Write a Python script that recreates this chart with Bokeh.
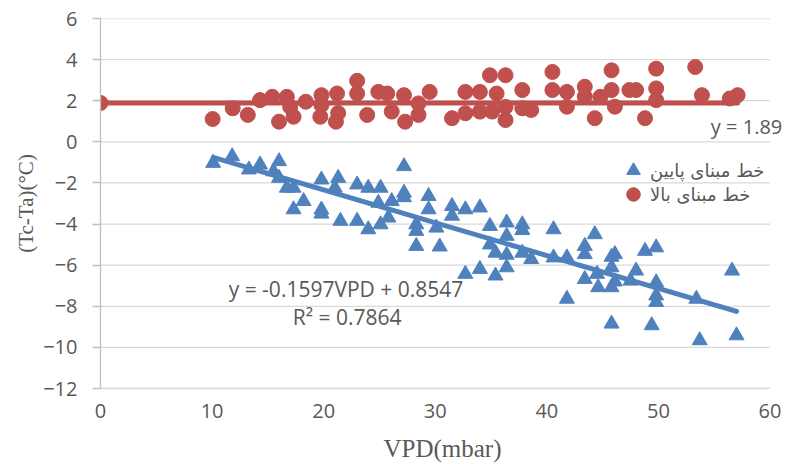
import numpy as np
from bokeh.plotting import figure
from bokeh.models import FixedTicker, Label, Legend, LegendItem
from bokeh.embed import file_html
from bokeh.resources import INLINE

# ---- data ----
vpd_low = [10.1, 11.8, 13.3, 14.3, 15.5, 16.0, 16.0, 16.7, 17.3, 17.3, 18.2, 19.8, 19.8, 19.8,
           21.0, 21.3, 21.5, 23.0, 23.0, 24.0, 24.0, 24.9, 25.1, 25.1, 25.8, 26.1, 27.2, 27.2,
           27.2, 28.3, 28.3, 28.3, 29.4, 29.4, 30.1, 30.4, 31.5, 31.5, 32.7, 32.7, 34.0, 34.0,
           34.9, 34.9, 35.4, 35.4, 36.4, 36.4, 36.4, 36.4, 37.8, 37.8, 37.8, 38.6, 40.6, 40.6,
           41.8, 41.8, 43.4, 43.4, 43.4, 44.3, 44.5, 44.6, 45.8, 45.8, 45.8, 45.8, 46.1, 46.1,
           47.5, 48.0, 48.8, 49.4, 49.8, 49.8, 49.8, 49.8, 53.4, 53.7, 56.6, 57.0]
dt_low = [-1.03, -0.71, -1.35, -1.11, -1.44, -0.95, -1.76, -2.24, -2.24, -3.29, -2.89, -1.84, -3.30, -3.50,
          -2.24, -1.76, -3.85, -2.08, -3.85, -2.24, -4.26, -2.97, -2.24, -4.02, -3.69, -2.89, -1.19, -2.48,
          -2.70, -4.02, -4.34, -5.07, -2.64, -3.29, -4.18, -5.10, -3.13, -3.60, -3.29, -6.43, -3.20, -6.19,
          -4.10, -5.00, -5.40, -6.51, -3.93, -4.58, -5.50, -6.11, -4.02, -4.30, -5.40, -5.71, -4.26, -5.63,
          -5.63, -7.64, -5.07, -5.47, -6.68, -4.50, -6.43, -7.08, -5.60, -6.11, -7.08, -8.85, -5.47, -6.80,
          -6.76, -6.27, -5.31, -8.93, -5.14, -6.84, -7.48, -7.80, -7.64, -9.66, -6.27, -9.42]

vpd_high = [0.0, 10.05, 11.85, 13.2, 14.3, 15.4, 16.0, 16.7, 17.0, 17.3, 18.4, 19.7, 19.8, 19.8,
            21.1, 21.2, 21.3, 23.0, 23.0, 23.9, 24.9, 25.7, 26.1, 27.2, 27.3, 28.5, 28.5, 29.5,
            31.5, 32.7, 32.7, 34.0, 34.0, 34.9, 35.1, 35.5, 36.3, 36.3, 36.3, 37.8, 37.8, 38.6,
            40.5, 40.5, 41.8, 41.8, 43.4, 43.4, 44.3, 44.8, 45.8, 45.8, 46.1, 47.4, 48.0, 48.8,
            49.8, 49.8, 49.8, 53.3, 53.9, 56.4, 57.1]
dt_high = [1.89, 1.11, 1.63, 1.31, 2.03, 2.19, 0.98, 2.19, 1.70, 1.22, 1.95, 1.22, 1.79, 2.27,
           0.98, 2.35, 1.40, 2.97, 2.35, 1.31, 2.43, 2.35, 1.47, 2.27, 0.98, 1.87, 1.31, 2.43,
           1.15, 2.43, 1.39, 2.43, 1.47, 3.24, 1.47, 2.35, 3.24, 1.06, 1.70, 2.52, 1.63, 1.55,
           3.40, 2.52, 2.43, 1.71, 2.68, 2.20, 1.15, 2.19, 3.48, 2.52, 1.71, 2.52, 2.52, 1.15,
           3.56, 2.60, 2.03, 3.64, 2.27, 2.11, 2.27]

low_slope = -0.1597
low_intercept = 0.8547
high_level = 1.89

x_ticks = [0, 10, 20, 30, 40, 50, 60]
y_ticks = [-12, -10, -8, -6, -4, -2, 0, 2, 4, 6]

eq_low = "y = -0.1597VPD + 0.8547"
r2_low = "R² = 0.7864"
eq_high = "y = 1.89"
legend_low = "خط مبنای پایین"
legend_high = "خط مبنای بالا"
x_title = "VPD(mbar)"
y_title = "(Tc-Ta)(°C)"

BLUE = "#4F81BD"
RED = "#C0504D"
TXT = "#595959"
GRID = "#d9d9d9"
TICK_FONT = "Open Sans"

x_lo, x_hi = x_ticks[0], x_ticks[-1]

# frame extends a little past x=60 so the "y = 1.89" label has room; the
# gridlines and the x-axis line stop at 60 as in the reference.
p = figure(width=787, height=464, x_range=(x_lo, 61.3), y_range=(y_ticks[0], y_ticks[-1]),
           output_backend="svg", toolbar_location=None,
           min_border_left=100, min_border_right=3, min_border_top=18, min_border_bottom=74)
p.outline_line_color = None
p.background_fill_color = "white"
p.border_fill_color = "white"

# grid (drawn as segments limited to 0..60)
p.xgrid.grid_line_color = None
p.ygrid.grid_line_color = None
p.segment(x0=[x_lo] * len(y_ticks), x1=[x_hi] * len(y_ticks), y0=y_ticks, y1=y_ticks,
          line_color=GRID, line_width=1.3)

# axes
p.xaxis.ticker = FixedTicker(ticks=x_ticks)
p.yaxis.ticker = FixedTicker(ticks=y_ticks)
for ax in (p.xaxis[0], p.yaxis[0]):
    ax.minor_tick_line_color = None
    ax.major_label_text_font = TICK_FONT
    ax.major_label_text_font_size = "20px"
    ax.major_label_text_color = TXT
    ax.axis_label_text_font = "Liberation Serif"
    ax.axis_label_text_font_style = "normal"
    ax.axis_label_text_color = TXT
    ax.major_tick_in = 0

p.yaxis.axis_line_color = "#bfbfbf"
p.yaxis.axis_line_width = 1.3
p.yaxis.major_tick_line_color = "#bfbfbf"
p.yaxis.major_tick_line_width = 1.3
p.yaxis.major_tick_out = 8
p.yaxis.major_label_standoff = 15
p.yaxis.axis_label = y_title
p.yaxis.axis_label_text_font_size = "21px"
p.yaxis.axis_label_standoff = 2

p.xaxis.bounds = (x_lo, x_hi)
p.xaxis.axis_line_color = GRID
p.xaxis.axis_line_width = 1.3
p.xaxis.major_tick_out = 0
p.xaxis.major_tick_line_color = None
p.xaxis.major_label_standoff = 15
p.xaxis.axis_label = x_title
p.xaxis.axis_label_text_font_size = "25px"
p.xaxis.axis_label_standoff = 14

# scatter series
r_low = p.scatter(vpd_low, dt_low, marker="triangle", size=15,
                  fill_color=BLUE, line_color=BLUE)
r_high = p.scatter(vpd_high, dt_high, marker="circle", size=15,
                   fill_color=RED, line_color=RED)

# trend lines
xl = np.array([min(vpd_low), max(vpd_low)])
p.line(xl, low_slope * xl + low_intercept, line_color=BLUE, line_width=5, line_cap="round")
xh = np.array([min(vpd_high), max(vpd_high)])
p.line(xh, np.full(2, high_level), line_color=RED, line_width=5, line_cap="round")

# equation labels
p.add_layout(Label(x=22.0, y=-7.16, text=eq_low, text_align="center", text_baseline="middle",
                   text_font=TICK_FONT, text_font_size="21px", text_color=TXT))
p.add_layout(Label(x=22.1, y=-8.51, text=r2_low, text_align="center", text_baseline="middle",
                   text_font=TICK_FONT, text_font_size="21px", text_color=TXT))
p.add_layout(Label(x=54.7, y=0.73, text=eq_high, text_align="left", text_baseline="middle",
                   text_font=TICK_FONT, text_font_size="20px", text_color=TXT))

# legend (two one-row legends)
def make_legend(label, renderer, loc):
    lg = Legend(items=[LegendItem(label=label, renderers=[renderer])], location=loc,
                glyph_width=34, glyph_height=34, label_standoff=0, padding=0, margin=0,
                border_line_color=None, background_fill_alpha=0,
                label_text_font="DejaVu Sans", label_text_font_size="18px",
                label_text_color=TXT)
    p.add_layout(lg, "center")

make_legend(legend_low, r_low, (516, 201))
make_legend(legend_high, r_high, (516, 177))

open("out.html", "w").write(file_html(p, INLINE))
